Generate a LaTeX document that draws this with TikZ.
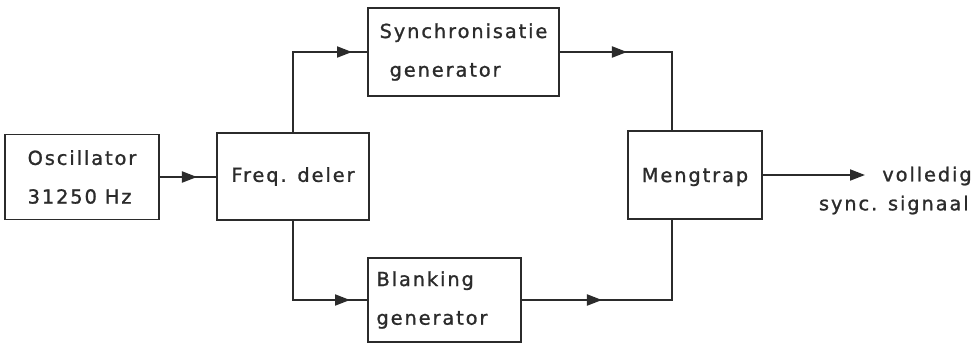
\documentclass[tikz,border=0pt]{standalone}
\usepackage{fontspec}
\newfontfamily\lbl[LetterSpace=10,FakeBold=1.2]{DejaVu Sans}
\usetikzlibrary{arrows.meta,decorations.markings}
\definecolor{ink}{HTML}{2B2B2B}
\tikzset{
  blk/.style={draw=ink, line width=1.1pt, inner sep=0pt, outer sep=0pt, text=ink},
  lbltxt/.style={text=ink, font=\lbl\fontsize{11}{22}\selectfont, inner sep=0pt},
  conn/.style={draw=ink, line width=1.1pt},
  tri/.style={postaction={decorate}, decoration={markings, mark=at position #1 with {\arrow{Triangle[length=0.3cm,width=0.22cm]}}}}
}
\begin{document}
\begin{tikzpicture}[x=0.02cm,y=-0.02cm]
\useasboundingbox (0,0) rectangle (978,342);
\clip (0,0) rectangle (978,342);
\fill[white] (0,0) rectangle (978,342);
\node[blk, lbltxt, minimum width=154*0.02cm, minimum height=85*0.02cm, align=left] (osc) at (82,177) {Oscillator\\31250 Hz};
\node[blk, lbltxt, minimum width=152*0.02cm, minimum height=87*0.02cm] (freq) at (293,176.5) {Freq. deler};
\node[blk, lbltxt, minimum width=191*0.02cm, minimum height=88*0.02cm, align=left] (sync) at (463.5,52) {Synchronisatie\\\hspace*{0.2cm}generator};
\node[blk, lbltxt, minimum width=153*0.02cm, minimum height=84*0.02cm, align=left] (blank) at (444.5,300) {Blanking\\generator\hspace*{0.5cm}};
\node[blk, lbltxt, minimum width=134*0.02cm, minimum height=88*0.02cm, text depth=-0.1cm] (mix) at (695,175) {Mengtrap};
\path (mix.north west) ++(44,0) coordinate (mxt);
\path (mix.south west) ++(44,0) coordinate (mxb);
\path (mix.east) ++(103,0) coordinate (out);
\node[lbltxt, anchor=west] (t1) at (882,176) {volledig};
\node[lbltxt, anchor=east] (t2) at (969,205) {sync. signaal};
\draw[conn, tri=0.76cm] (osc.east) -- (freq.west |- osc.east);
\draw[conn, tri=-0.32cm] (freq.north) |- (sync.west);
\draw[conn, tri=-0.36cm] (freq.south) |- (blank.west);
\draw[conn, tri=1.36cm] (sync.east) -| (mxt);
\draw[conn, tri=1.62cm] (blank.east) -| (mxb);
\draw[conn, -{Triangle[length=0.3cm,width=0.22cm]}] (mix.east) -- (out);
\end{tikzpicture}
\end{document}
